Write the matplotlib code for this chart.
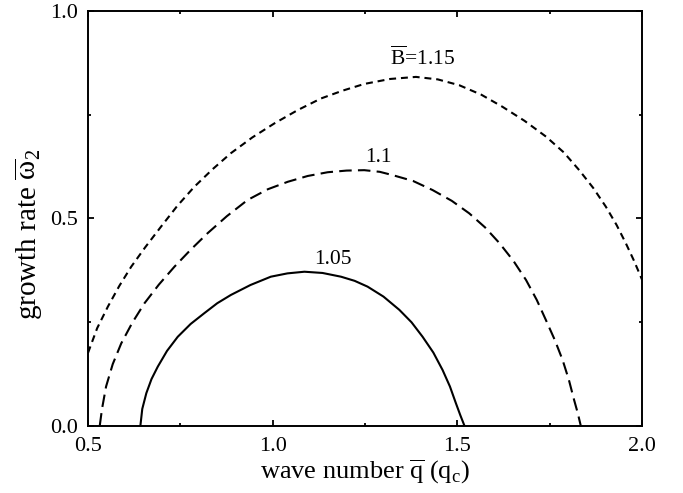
import matplotlib
matplotlib.use("Agg")
import matplotlib.pyplot as plt

plt.rcParams['font.family'] = ['Liberation Serif', 'DejaVu Serif']
plt.rcParams['mathtext.fontset'] = 'custom'
plt.rcParams['mathtext.rm'] = 'Liberation Serif'
plt.rcParams['mathtext.it'] = 'Liberation Serif:italic'
plt.rcParams['lines.scale_dashes'] = False

# growth rate curves, one per B value
q_105 = [0.642, 0.647, 0.658, 0.672, 0.689, 0.714, 0.743, 0.778, 0.815, 0.850,
         0.887, 0.940, 0.995, 1.040, 1.086, 1.135, 1.185, 1.222, 1.257, 1.300,
         1.343, 1.376, 1.406, 1.435, 1.460, 1.480, 1.496, 1.508, 1.519]
w_105 = [0.0, 0.040, 0.078, 0.112, 0.142, 0.180, 0.214, 0.245, 0.271, 0.295,
         0.315, 0.339, 0.359, 0.367, 0.371, 0.368, 0.359, 0.349, 0.335, 0.311,
         0.279, 0.249, 0.214, 0.176, 0.134, 0.094, 0.054, 0.025, 0.0]

q_110 = [0.532, 0.538, 0.549, 0.567, 0.590, 0.620, 0.653, 0.692, 0.734, 0.778,
         0.824, 0.876, 0.932, 0.987, 1.041, 1.095, 1.149, 1.200, 1.248, 1.290,
         1.325, 1.380, 1.433, 1.485, 1.532, 1.575, 1.614, 1.652, 1.686, 1.715,
         1.740, 1.764, 1.785, 1.802, 1.816, 1.826, 1.834]
w_110 = [0.0, 0.040, 0.094, 0.148, 0.198, 0.248, 0.295, 0.340, 0.383, 0.424,
         0.464, 0.505, 0.544, 0.570, 0.588, 0.602, 0.611, 0.615, 0.616, 0.612,
         0.604, 0.590, 0.568, 0.542, 0.512, 0.478, 0.440, 0.397, 0.351, 0.303,
         0.254, 0.206, 0.158, 0.110, 0.062, 0.030, 0.0]

q_115 = [0.500, 0.525, 0.554, 0.585, 0.617, 0.655, 0.698, 0.742, 0.788, 0.837,
         0.887, 0.945, 1.005, 1.068, 1.131, 1.190, 1.248, 1.318, 1.388, 1.447,
         1.505, 1.565, 1.622, 1.682, 1.740, 1.788, 1.830, 1.868, 1.902, 1.931,
         1.956, 1.978, 2.000]
w_115 = [0.175, 0.235, 0.287, 0.337, 0.383, 0.430, 0.480, 0.530, 0.576, 0.618,
         0.657, 0.695, 0.729, 0.761, 0.789, 0.808, 0.824, 0.836, 0.841, 0.835,
         0.821, 0.798, 0.769, 0.735, 0.697, 0.659, 0.616, 0.573, 0.528, 0.484,
         0.440, 0.398, 0.352]

labels = [r'$\overline{\mathrm{B}}$=1.15', '1.1', '1.05']
label_pos = [(1.406, 0.870), (1.287, 0.636), (1.162, 0.390)]

fig = plt.figure(figsize=(6.83, 4.93), dpi=100)
ax = fig.add_axes([0.1288, 0.1369, 0.8112, 0.8408])

ax.plot(q_105, w_105, color='black', lw=1.5)
ax.plot(q_110, w_110, color='black', lw=1.5, dashes=(9, 4.5))
ax.plot(q_115, w_115, color='black', lw=1.5, dashes=(5, 3.5))

for txt, (x, y) in zip(labels, label_pos):
    ax.text(x, y, txt, ha='center', va='baseline', fontsize=15.5)

ax.set_xlim(0.5, 2.0)
ax.set_ylim(0.0, 1.0)
ax.set_xticks([0.5, 1.0, 1.5, 2.0])
ax.set_xticks([0.75, 1.25, 1.75], minor=True)
ax.set_yticks([0.0, 0.5, 1.0])
ax.set_yticks([0.25, 0.75], minor=True)
ax.set_xticklabels(['0.5', '1.0', '1.5', '2.0'])
ax.set_yticklabels(['0.0', '0.5', '1.0'])
ax.tick_params(which='both', direction='in', top=True, right=True,
               labelsize=16, width=1.3)
ax.tick_params(which='major', length=4.5)
ax.tick_params(which='minor', length=2.2)
ax.tick_params(axis='x', pad=8)
ax.tick_params(axis='y', pad=7)
for s in ax.spines.values():
    s.set_linewidth(1.4)

ax.set_xlabel(r'wave number $\overline{\mathrm{q}}$ $(\mathrm{q}_\mathrm{c})$', fontsize=19)
ax.set_ylabel(r'growth rate $\overline{\mathrm{\omega}}_2$', fontsize=21)
ax.xaxis.set_label_coords(0.5, -0.078)
ax.yaxis.set_label_coords(-0.078, 0.46)

fig.savefig('out.png', dpi=100)
